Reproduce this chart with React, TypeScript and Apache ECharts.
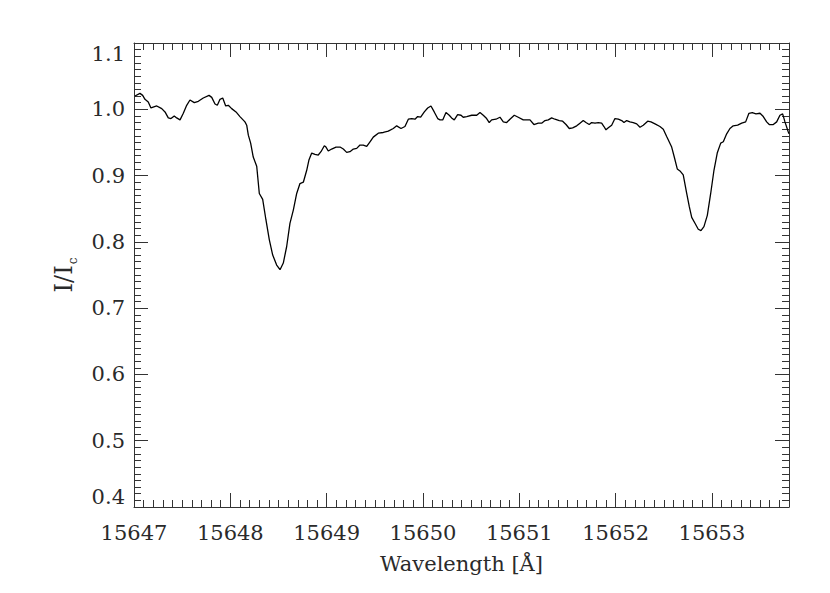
import React, { useEffect, useRef } from "react";
import * as echarts from "echarts";

const wavelength = [
  15647.010, 15647.062, 15647.090, 15647.114, 15647.148, 15647.176, 15647.236, 15647.288, 15647.322, 15647.356,
  15647.384, 15647.418, 15647.443, 15647.478, 15647.512, 15647.547, 15647.581, 15647.626, 15647.668, 15647.719,
  15647.779, 15647.807, 15647.841, 15647.865, 15647.893, 15647.921, 15647.952, 15647.979, 15648.014, 15648.059,
  15648.100, 15648.152, 15648.170, 15648.187, 15648.211, 15648.238, 15648.274, 15648.301, 15648.336, 15648.370,
  15648.405, 15648.440, 15648.481, 15648.516, 15648.550, 15648.585, 15648.619, 15648.654, 15648.689, 15648.723,
  15648.758, 15648.793, 15648.817, 15648.845, 15648.879, 15648.913, 15648.941, 15648.976, 15648.993, 15649.017,
  15649.052, 15649.097, 15649.139, 15649.173, 15649.208, 15649.242, 15649.277, 15649.312, 15649.346, 15649.380,
  15649.416, 15649.450, 15649.484, 15649.536, 15649.588, 15649.640, 15649.692, 15649.727, 15649.772, 15649.813,
  15649.848, 15649.883, 15649.917, 15649.945, 15649.976, 15650.014, 15650.049, 15650.083, 15650.117, 15650.153,
  15650.177, 15650.205, 15650.239, 15650.273, 15650.304, 15650.325, 15650.360, 15650.395, 15650.418, 15650.454,
  15650.506, 15650.558, 15650.592, 15650.626, 15650.661, 15650.688, 15650.713, 15650.758, 15650.799, 15650.834,
  15650.869, 15650.903, 15650.948, 15650.989, 15651.041, 15651.111, 15651.152, 15651.197, 15651.232, 15651.267,
  15651.301, 15651.336, 15651.370, 15651.415, 15651.450, 15651.485, 15651.519, 15651.554, 15651.596, 15651.630,
  15651.664, 15651.692, 15651.726, 15651.751, 15651.786, 15651.820, 15651.855, 15651.879, 15651.900, 15651.924,
  15651.959, 15651.993, 15652.028, 15652.063, 15652.087, 15652.115, 15652.149, 15652.183, 15652.219, 15652.253,
  15652.287, 15652.333, 15652.367, 15652.409, 15652.460, 15652.495, 15652.530, 15652.582, 15652.609, 15652.640,
  15652.668, 15652.702, 15652.738, 15652.765, 15652.790, 15652.824, 15652.858, 15652.886, 15652.917, 15652.952,
  15652.987, 15653.021, 15653.055, 15653.091, 15653.118, 15653.153, 15653.187, 15653.221, 15653.267, 15653.309,
  15653.350, 15653.384, 15653.419, 15653.457, 15653.499, 15653.533, 15653.568, 15653.595, 15653.637, 15653.672,
  15653.706, 15653.734, 15653.758, 15653.792, 15653.800,
];

const intensity = [
  1.020, 1.024, 1.021, 1.015, 1.011, 1.002, 1.005, 1.001, 0.996, 0.987,
  0.986, 0.990, 0.987, 0.984, 0.994, 1.006, 1.014, 1.010, 1.012, 1.017,
  1.021, 1.018, 1.008, 1.006, 1.015, 1.017, 1.005, 1.006, 1.001, 0.996,
  0.989, 0.981, 0.976, 0.961, 0.949, 0.928, 0.914, 0.873, 0.864, 0.833,
  0.803, 0.780, 0.765, 0.758, 0.768, 0.793, 0.828, 0.848, 0.873, 0.888,
  0.890, 0.908, 0.924, 0.934, 0.932, 0.931, 0.936, 0.945, 0.943, 0.937,
  0.940, 0.943, 0.943, 0.940, 0.935, 0.936, 0.940, 0.941, 0.946, 0.946,
  0.944, 0.951, 0.958, 0.964, 0.965, 0.967, 0.971, 0.975, 0.971, 0.974,
  0.985, 0.986, 0.985, 0.989, 0.988, 0.996, 1.002, 1.005, 0.996, 0.986,
  0.984, 0.984, 0.995, 0.991, 0.986, 0.984, 0.992, 0.991, 0.988, 0.989,
  0.991, 0.991, 0.995, 0.991, 0.986, 0.980, 0.984, 0.985, 0.988, 0.981,
  0.980, 0.985, 0.991, 0.988, 0.984, 0.984, 0.977, 0.979, 0.979, 0.983,
  0.984, 0.987, 0.985, 0.983, 0.982, 0.977, 0.971, 0.972, 0.975, 0.979,
  0.983, 0.980, 0.977, 0.980, 0.979, 0.980, 0.979, 0.974, 0.969, 0.972,
  0.976, 0.986, 0.985, 0.983, 0.980, 0.983, 0.981, 0.980, 0.978, 0.973,
  0.976, 0.982, 0.981, 0.978, 0.974, 0.970, 0.959, 0.943, 0.928, 0.910,
  0.907, 0.901, 0.873, 0.853, 0.837, 0.828, 0.819, 0.817, 0.823, 0.840,
  0.873, 0.908, 0.934, 0.949, 0.951, 0.963, 0.971, 0.975, 0.976, 0.979,
  0.981, 0.994, 0.995, 0.993, 0.994, 0.989, 0.981, 0.977, 0.977, 0.981,
  0.991, 0.993, 0.981, 0.966, 0.963,
];

const X_MIN = 15647;
const X_MAX = 15653.8;
const Y_MIN = 0.4;
const Y_MAX = 1.1;
const X_TITLE = "Wavelength [Å]";
const Y_TITLE = "{a|I/I}{b|c}";

const FONT = "DejaVu Serif";
const INK = "#333";
const TEXT = "#2a2a2a";

export default function App() {
  const ref = useRef<HTMLDivElement>(null);
  useEffect(() => {
    if (!ref.current) return;
    const chart = echarts.init(ref.current, null, { renderer: "svg" });
    const data = wavelength.map((w, i) => [w, intensity[i]]);

    const xBase = (position: "bottom" | "top", major: boolean, labels: boolean) => ({
      type: "value",
      position,
      min: X_MIN,
      max: X_MAX,
      interval: major ? 1 : 0.1,
      scale: true,
      axisLine: { show: !major, lineStyle: { color: INK, width: 1 } },
      axisTick: { show: true, inside: true, length: major ? 14 : 7, lineStyle: { color: INK, width: 1 } },
      axisLabel: {
        show: labels,
        showMaxLabel: false,
        margin: 15,
        fontFamily: FONT,
        fontSize: 21,
        color: TEXT,
        formatter: (v: number) => String(Math.round(v)),
      },
      splitLine: { show: false },
      ...(labels
        ? {
            name: X_TITLE,
            nameLocation: "middle",
            nameGap: 46,
            nameTextStyle: { fontFamily: FONT, fontSize: 21, color: TEXT },
          }
        : {}),
    });

    const yBase = (position: "left" | "right", major: boolean, labels: boolean) => ({
      type: "value",
      position,
      min: Y_MIN,
      max: Y_MAX,
      interval: major ? 0.1 : 0.01,
      axisLine: { show: !major, lineStyle: { color: INK, width: 1 } },
      axisTick: { show: true, inside: true, length: major ? 14 : 7, lineStyle: { color: INK, width: 1 } },
      axisLabel: {
        show: labels,
        margin: 9,
        fontFamily: FONT,
        fontSize: 21,
        color: TEXT,
        verticalAlignMaxLabel: "top",
        verticalAlignMinLabel: "bottom",
        formatter: (v: number) => v.toFixed(1),
      },
      splitLine: { show: false },
      ...(labels
        ? {
            name: Y_TITLE,
            nameLocation: "middle",
            nameGap: 58,
            nameRotate: 90,
            nameTextStyle: {
              color: TEXT,
              rich: {
                a: { fontFamily: FONT, fontSize: 24, color: TEXT, verticalAlign: "top", lineHeight: 24 },
                b: { fontFamily: FONT, fontSize: 12, color: TEXT, verticalAlign: "top", lineHeight: 12, padding: [15, 0, 0, 1] },
              },
            },
          }
        : {}),
    });

    chart.setOption({
      animation: false,
      backgroundColor: "#fff",
      grid: { left: 134, right: 41, top: 43, bottom: 86, containLabel: false },
      xAxis: [
        xBase("bottom", false, false),
        xBase("bottom", true, true),
        xBase("top", false, false),
        xBase("top", true, false),
      ],
      yAxis: [
        yBase("left", false, false),
        yBase("left", true, true),
        yBase("right", false, false),
        yBase("right", true, false),
      ],
      series: [
        {
          type: "line",
          xAxisIndex: 0,
          yAxisIndex: 0,
          data,
          showSymbol: false,
          symbol: "none",
          smooth: false,
          lineStyle: { color: "#000", width: 1.3 },
          clip: true,
        },
      ],
    });
    return () => chart.dispose();
  }, []);
  return (
    <div
      ref={ref}
      style={{ position: "fixed", left: 0, top: 0, width: 830, height: 593 }}
    />
  );
}
